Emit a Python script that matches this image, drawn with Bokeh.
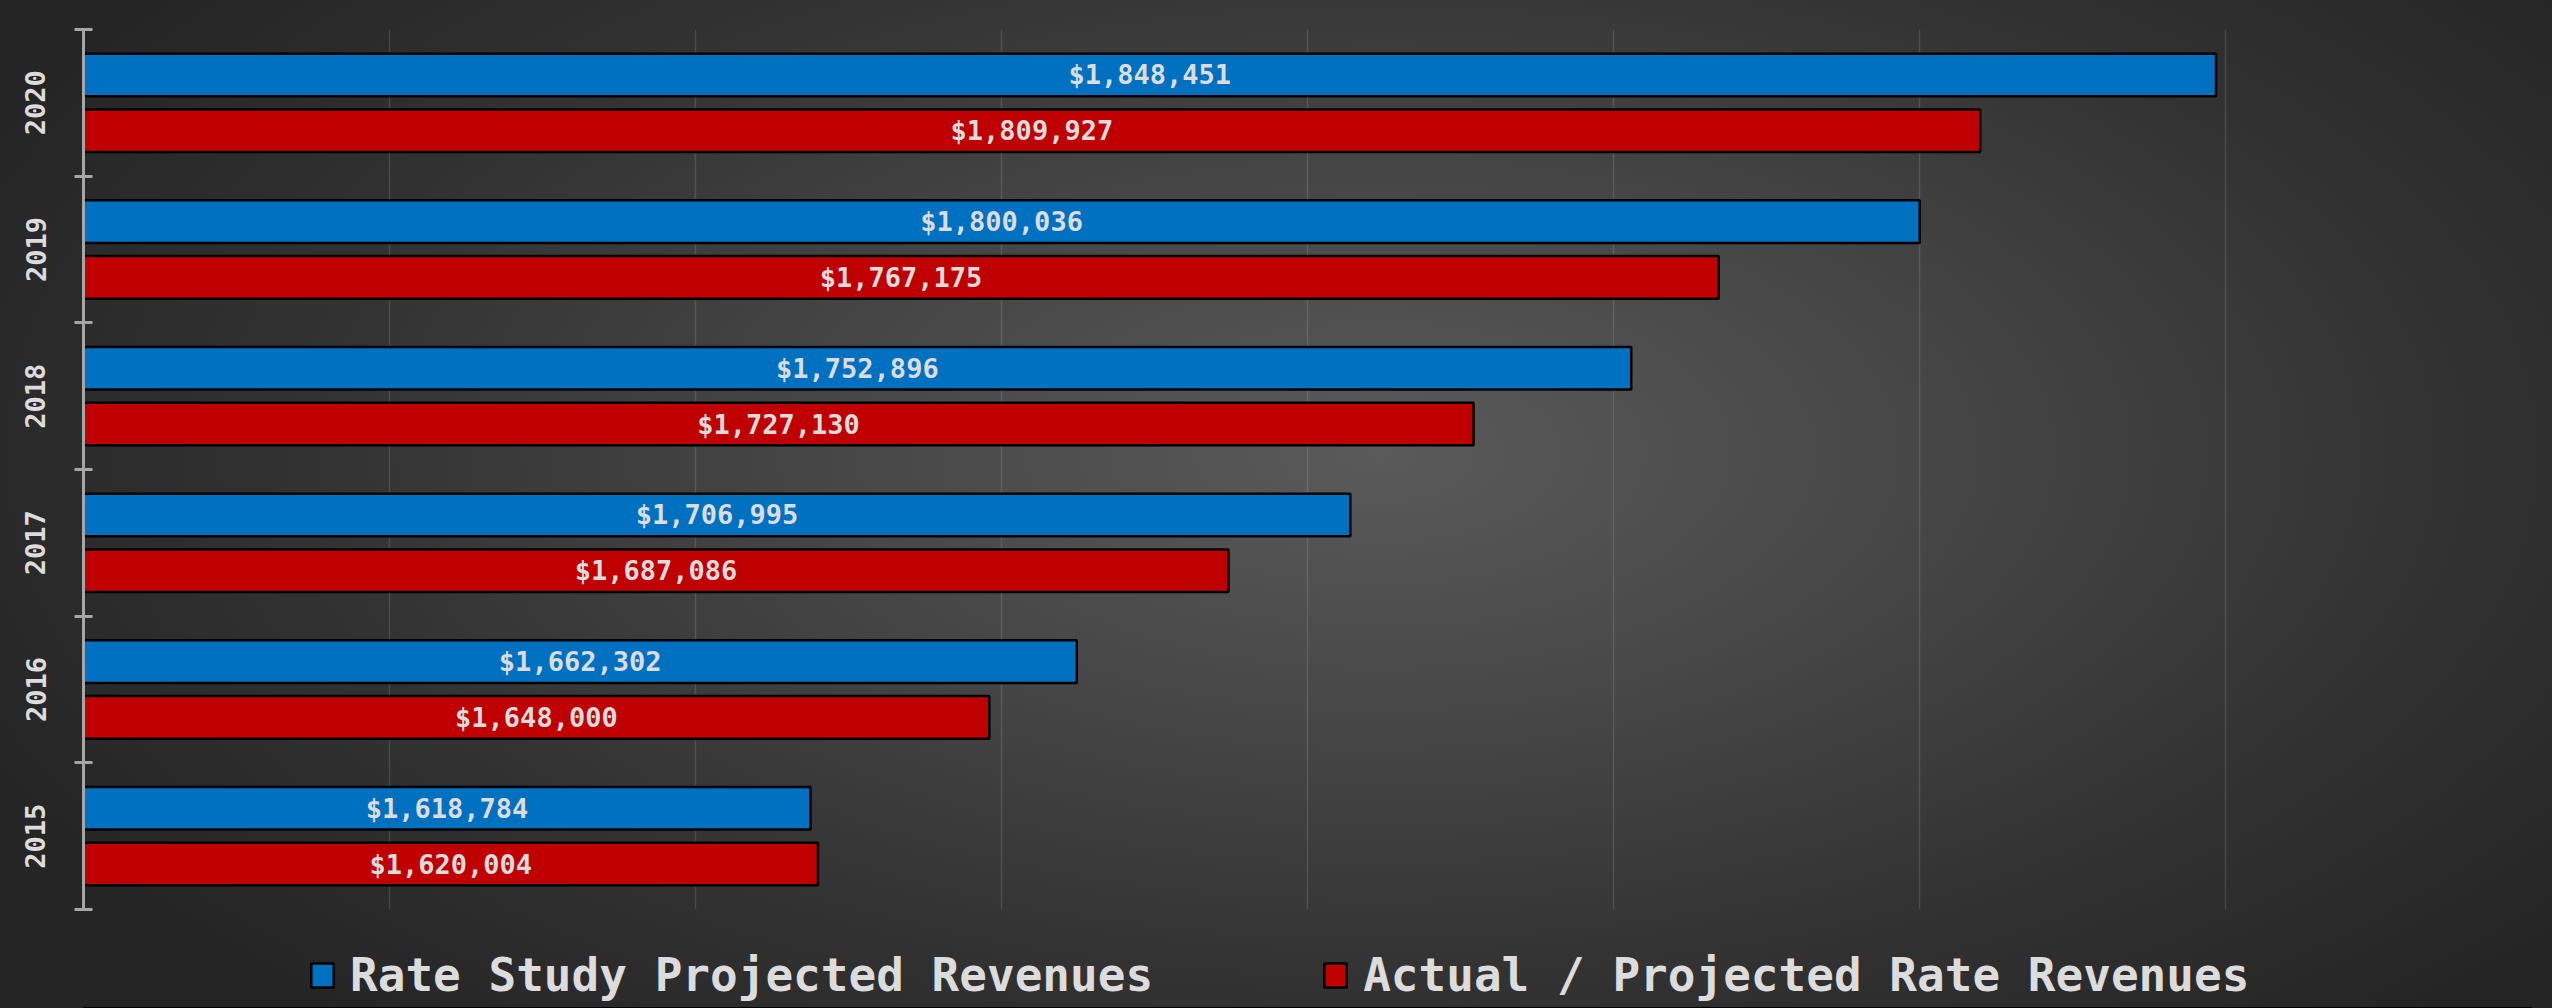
from bokeh.plotting import figure
from bokeh.layouts import column
from bokeh.models import (ColumnDataSource, FixedTicker, Grid, Legend, LegendItem,
                          LinearAxis, Range1d)
from bokeh.core.properties import value
from bokeh.embed import file_html
from bokeh.resources import INLINE

# ---- data ----
years = ["2015", "2016", "2017", "2018", "2019", "2020"]
rate_study = [1618784, 1662302, 1706995, 1752896, 1800036, 1848451]
actual = [1620004, 1648000, 1687086, 1727130, 1767175, 1809927]
series_names = ["Rate Study Projected Revenues", "Actual / Projected Rate Revenues"]
x_min, x_max, x_step = 1500000, 1900000, 50000

FONT = "DejaVu Sans Mono"
TXT = "#dcdcdc"
BLUE = "#0070C0"
RED = "#C00000"

idx = list(range(len(years)))
off = 0.19
bh = 0.29

src_b = ColumnDataSource(dict(
    y=[i + off for i in idx], right=rate_study, left=[x_min] * len(idx),
    xm=[(x_min + v) / 2 for v in rate_study], lab=[f"${v:,}" for v in rate_study]))
src_r = ColumnDataSource(dict(
    y=[i - off for i in idx], right=actual, left=[x_min] * len(idx),
    xm=[(x_min + v) / 2 for v in actual], lab=[f"${v:,}" for v in actual]))

p = figure(width=2552, height=911,
           output_backend="svg", toolbar_location=None,
           x_range=Range1d(x_min, x_max), y_range=Range1d(-0.5, len(idx) - 0.5),
           x_axis_location=None, y_axis_location=None,
           min_border_left=83, min_border_top=29, min_border_right=21,
           min_border_bottom=2)
p.grid.visible = False
p.outline_line_color = None
p.background_fill_alpha = 0
p.border_fill_alpha = 0

grid = Grid(dimension=0, ticker=FixedTicker(ticks=list(range(x_min, x_max + 1, x_step))),
            grid_line_color="white", grid_line_alpha=0.12, grid_line_width=1.5)
p.add_layout(grid, "center")

yaxis = LinearAxis(
    ticker=FixedTicker(ticks=idx, minor_ticks=[i - 0.5 for i in range(len(idx) + 1)]),
    major_label_overrides={i: years[i] for i in idx},
    major_tick_in=0, major_tick_out=0,
    minor_tick_in=9, minor_tick_out=9,
    minor_tick_line_color="#a6a6a6", minor_tick_line_width=3,
    axis_line_color="#a6a6a6", axis_line_width=3,
    major_label_orientation="vertical",
    major_label_text_font=FONT, major_label_text_font_size="27px",
    major_label_text_font_style="bold", major_label_text_color=TXT,
    major_label_standoff=29)
p.add_layout(yaxis, "left")

rb = p.hbar(y="y", left="left", right="right", height=bh, source=src_b,
            fill_color=BLUE, line_color="black", line_width=2.5)
rr = p.hbar(y="y", left="left", right="right", height=bh, source=src_r,
            fill_color=RED, line_color="black", line_width=2.5)

for src in (src_b, src_r):
    p.text(x="xm", y="y", text="lab", source=src, text_align="center",
           text_baseline="middle", text_font=value(FONT), text_font_size="27px",
           text_font_style="bold", text_color=TXT)

# ---- legend strip (same bar styles, proxy glyphs kept out of view) ----
p2 = figure(width=2552, height=97, output_backend="svg", toolbar_location=None,
            x_range=Range1d(0, 1), y_range=Range1d(0, 1),
            x_axis_location=None, y_axis_location=None, min_border=0)
p2.grid.visible = False
p2.outline_line_color = None
p2.background_fill_alpha = 0
p2.border_fill_alpha = 0
lb = p2.hbar(y=[-10], left=[0], right=[1], height=bh,
             fill_color=BLUE, line_color="black", line_width=2.5)
lr = p2.hbar(y=[-10], left=[0], right=[1], height=bh,
             fill_color=RED, line_color="black", line_width=2.5)

legend = Legend(items=[LegendItem(label=series_names[0], renderers=[lb]),
                       LegendItem(label=series_names[1], renderers=[lr])],
                orientation="horizontal", location=(225, 6),
                label_text_font=FONT, label_text_font_size="46px",
                label_text_font_style="bold", label_text_color=TXT,
                glyph_width=28, glyph_height=30, label_standoff=14, spacing=168,
                padding=0, margin=0, background_fill_alpha=0, border_line_alpha=0)
p2.add_layout(legend, "center")

lay = column(p, p2, spacing=0, styles={
    "background": "radial-gradient(ellipse 60% 75% at 54% 45%, #5a5a5a 0%, #474747 35%, #323232 70%, #252525 100%)"})

html = file_html(lay, INLINE)
html = html.replace("<body>", '<body style="background:#262626;">')
open("out.html", "w").write(html)
